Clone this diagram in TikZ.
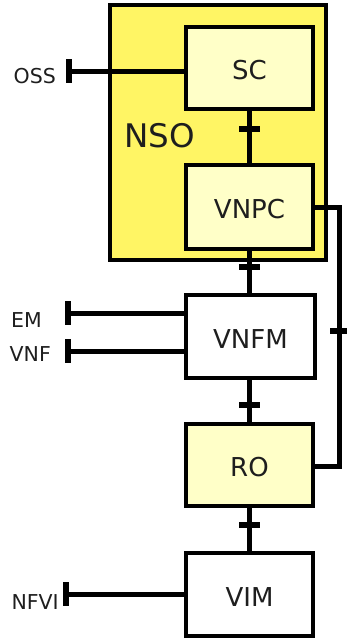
\documentclass[tikz,border=0pt]{standalone}
\usepackage{fontspec}
\setmainfont{DejaVu Sans}
\definecolor{nsoyel}{RGB}{255,245,100}
\definecolor{lightyel}{RGB}{255,255,200}
\definecolor{txt}{RGB}{30,30,30}
\begin{document}
\begin{tikzpicture}[x=1pt,y=-1pt,
  box/.style={draw=black, line width=4pt, minimum width=127pt, minimum height=82pt,
    inner sep=0pt, text=txt, font=\fontsize{26}{26}\selectfont, text height=23pt, text depth=0pt},
  nsobox/.style={draw=black, line width=4pt, fill=nsoyel, minimum width=216pt, minimum height=255pt, inner sep=0pt},
  conn/.style={draw=black, line width=5pt},
  htick/.style={fill=black, minimum width=21pt, minimum height=6pt, inner sep=0pt, draw=none},
  vtick/.style={fill=black, minimum width=6pt, minimum height=24pt, inner sep=0pt, draw=none},
  lab/.style={anchor=base east, text=txt, font=\fontsize{20.5}{21}\selectfont, inner sep=0pt}
]
\useasboundingbox (0,0) rectangle (347,638);
% NSO container
\node[nsobox] (nso) at (218,132.5) {};
\node[anchor=base west, inner sep=0pt, text=txt, font=\fontsize{32.5}{33}\selectfont] (nsol) at (124,147) {NSO};
% boxes
\node[box, fill=lightyel] (sc) at (249.5,68) {SC};
\node[box, fill=lightyel, minimum height=84pt] (vnpc) at (249.5,207) {VNPC};
\node[box, fill=white, minimum width=129pt, minimum height=83pt] (vnfm) at (250.5,336.5) {VNFM};
\node[box, fill=lightyel] (ro) at (249.5,465) {RO};
\node[box, fill=white, minimum height=83pt] (vim) at (249.5,594.5) {VIM};
% vertical connectors
\draw[conn] (sc.south) -- node[pos=0.34, htick] (t1) {} (vnpc.north);
\draw[conn] (vnpc.south) -- node[pos=0.39, htick] (t2) {} (vnfm.north -| vnpc.south);
\draw[conn] (vnfm.south -| ro.north) -- node[pos=0.59, htick] (t3) {} (ro.north);
\draw[conn] (ro.south) -- node[pos=0.40, htick] (t4) {} (vim.north);
% right loop connector
\coordinate (rc1) at (339,207);
\coordinate (rc2) at (339,466);
\draw[conn] (vnpc.east) -- (rc1) -- node[pos=0.48, htick, minimum width=18pt] (t5) {} (rc2) -- (ro.east |- rc2);
% left connectors
\coordinate (oss) at (69,71);
\coordinate (em) at (68,313);
\coordinate (vnf) at (68,351);
\coordinate (nfvi) at (66,594);
\draw[conn] (oss) -- (oss -| sc.west);
\draw[conn] (em) -- (em -| vnfm.west);
\draw[conn] (vnf) -- (vnf -| vnfm.west);
\draw[conn] (nfvi) -- (nfvi -| vim.west);
\node[vtick] (to) at (oss) {};
\node[vtick] (te) at (em) {};
\node[vtick] (tv) at (vnf) {};
\node[vtick] (tn) at (nfvi) {};
% labels
\node[lab] (ossl) at (56,83) {OSS};
\node[lab] (eml) at (42,327) {EM};
\node[lab] (vnfl) at (51,361) {VNF};
\node[lab] (nfvil) at (59,609) {NFVI};
\end{tikzpicture}
\end{document}
